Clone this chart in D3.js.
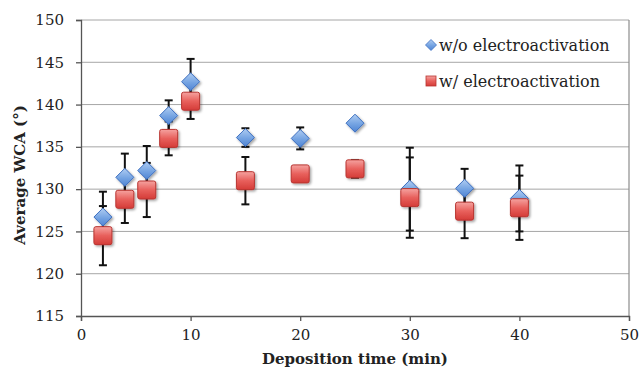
<!DOCTYPE html>
<html>
<head>
<meta charset="utf-8">
<script src="https://cdn.jsdelivr.net/npm/d3@7"></script>
<style>
  body { margin: 0; background: #fff; }
  text { font-family: "DejaVu Serif", serif; fill: #222; }
</style>
</head>
<body>
<div id="chart"></div>
<script>
// deposition time (min)
const times = [2, 4, 6, 8, 10, 15, 20, 25, 30, 35, 40];
// w/o electroactivation
const woMean = [126.7, 131.4, 132.2, 138.7, 142.7, 136.1, 136.0, 137.8, 130.0, 130.1, 128.9];
const woErr  = [3.0, 2.8, 2.9, 1.8, 2.7, 1.1, 1.3, 0.3, 4.9, 2.3, 3.9];
// w/ electroactivation
const wMean = [124.5, 128.8, 129.9, 136.0, 140.4, 131.0, 131.8, 132.4, 129.0, 127.4, 127.8];
const wErr  = [3.5, 2.8, 3.2, 2.0, 2.1, 2.8, 0.4, 1.05, 4.75, 3.2, 3.8];

const xTicks = [0, 10, 20, 30, 40, 50];
const yTicks = [115, 120, 125, 130, 135, 140, 145, 150];
const seriesNames = ['w/o electroactivation', 'w/ electroactivation'];

const width = 639, height = 375;
const margin = {top: 20, right: 10, bottom: 59, left: 81};
const w = width - margin.left - margin.right;
const h = height - margin.top - margin.bottom;

const svg = d3.select('#chart').append('svg')
  .attr('width', width)
  .attr('height', height);

const defs = svg.append('defs');
const blueGrad = defs.append('linearGradient').attr('id', 'blueGrad')
  .attr('x1', 0).attr('y1', 0).attr('x2', 0).attr('y2', 1);
blueGrad.append('stop').attr('offset', '0%').attr('stop-color', '#b0cdf2');
blueGrad.append('stop').attr('offset', '55%').attr('stop-color', '#74a3e2');
blueGrad.append('stop').attr('offset', '100%').attr('stop-color', '#4f84d3');
const redGrad = defs.append('linearGradient').attr('id', 'redGrad')
  .attr('x1', 0).attr('y1', 0).attr('x2', 0).attr('y2', 1);
redGrad.append('stop').attr('offset', '0%').attr('stop-color', '#f5a3a0');
redGrad.append('stop').attr('offset', '50%').attr('stop-color', '#e8605c');
redGrad.append('stop').attr('offset', '100%').attr('stop-color', '#d43c38');
const shadow = defs.append('filter').attr('id', 'shadow')
  .attr('x', '-30%').attr('y', '-30%').attr('width', '170%').attr('height', '170%');
shadow.append('feDropShadow').attr('dx', 1.5).attr('dy', 1.5)
  .attr('stdDeviation', 1.2).attr('flood-color', '#000').attr('flood-opacity', 0.35);

const g = svg.append('g')
  .attr('transform', `translate(${margin.left},${margin.top})`);

const x = d3.scaleLinear().domain([0, 50]).range([0, w]);
const y = d3.scaleLinear().domain([115, 150]).range([h, 0]);

// gridlines
g.append('g')
  .selectAll('line')
  .data(yTicks.filter(t => t > 115))
  .enter().append('line')
  .attr('x1', 0).attr('x2', w)
  .attr('y1', d => y(d)).attr('y2', d => y(d))
  .attr('stroke', '#a6a6a6').attr('stroke-width', 1);

// right border
g.append('line')
  .attr('x1', w).attr('x2', w).attr('y1', 0).attr('y2', h)
  .attr('stroke', '#8c8c8c').attr('stroke-width', 1.2);

// axes
const yAxis = g.append('g')
  .call(d3.axisLeft(y).tickValues(yTicks).tickSize(5).tickPadding(12));
const xAxis = g.append('g')
  .attr('transform', `translate(0,${h})`)
  .call(d3.axisBottom(x).tickValues(xTicks).tickSize(5).tickPadding(8));
[xAxis, yAxis].forEach(a => {
  a.select('.domain').attr('stroke', '#555').attr('stroke-width', 1.3);
  a.selectAll('.tick line').attr('stroke', '#555').attr('stroke-width', 1.3);
  a.selectAll('text')
    .style('font-family', '"DejaVu Serif", serif')
    .style('font-size', '15px')
    .attr('fill', '#222');
});

// axis titles
svg.append('text')
  .attr('x', margin.left + x(25))
  .attr('y', 364)
  .attr('text-anchor', 'middle')
  .style('font-size', '15px')
  .style('font-weight', 'bold')
  .text('Deposition time (min)');
svg.append('text')
  .attr('transform', `translate(25,175) rotate(-90)`)
  .attr('text-anchor', 'middle')
  .style('font-size', '15px')
  .style('font-weight', 'bold')
  .text('Average WCA (°)');

// error bars
function errorBars(means, errs, cls) {
  const eg = g.append('g').attr('class', cls);
  const d = times.map((t, i) => ({t, m: means[i], e: errs[i]}));
  eg.selectAll('line.bar')
    .data(d).enter().append('line')
    .attr('x1', p => x(p.t)).attr('x2', p => x(p.t))
    .attr('y1', p => y(p.m - p.e)).attr('y2', p => y(p.m + p.e))
    .attr('stroke', '#111').attr('stroke-width', 2);
  ['lo', 'hi'].forEach(k => {
    eg.selectAll('line.cap-' + k)
      .data(d).enter().append('line')
      .attr('x1', p => x(p.t) - 4).attr('x2', p => x(p.t) + 4)
      .attr('y1', p => y(k === 'lo' ? p.m - p.e : p.m + p.e))
      .attr('y2', p => y(k === 'lo' ? p.m - p.e : p.m + p.e))
      .attr('stroke', '#111').attr('stroke-width', 2);
  });
}
errorBars(woMean, woErr, 'err-wo');
errorBars(wMean, wErr, 'err-w');

// markers
const diamond = s => `M0,${-s} L${s},0 L0,${s} L${-s},0 Z`;

g.append('g').selectAll('path')
  .data(times.map((t, i) => ({t, v: woMean[i]})))
  .enter().append('path')
  .attr('transform', d => `translate(${x(d.t)},${y(d.v)})`)
  .attr('d', diamond(9))
  .attr('fill', 'url(#blueGrad)')
  .attr('stroke', '#3d6fc0').attr('stroke-width', 1)
  .attr('filter', 'url(#shadow)');

g.append('g').selectAll('rect')
  .data(times.map((t, i) => ({t, v: wMean[i]})))
  .enter().append('rect')
  .attr('x', d => x(d.t) - 9).attr('y', d => y(d.v) - 9)
  .attr('width', 18).attr('height', 18)
  .attr('rx', 2)
  .attr('fill', 'url(#redGrad)')
  .attr('stroke', '#b83430').attr('stroke-width', 1)
  .attr('filter', 'url(#shadow)');

// legend
const legend = svg.append('g');
legend.append('path')
  .attr('transform', 'translate(431,45)')
  .attr('d', diamond(5.5))
  .attr('fill', 'url(#blueGrad)')
  .attr('stroke', '#3d6fc0').attr('stroke-width', 0.8);
legend.append('rect')
  .attr('x', 426).attr('y', 76).attr('width', 10).attr('height', 10)
  .attr('fill', 'url(#redGrad)')
  .attr('stroke', '#b83430').attr('stroke-width', 0.8);
legend.selectAll('text')
  .data(seriesNames)
  .enter().append('text')
  .attr('x', 439)
  .attr('y', (d, i) => i === 0 ? 51 : 87)
  .style('font-size', '16px')
  .text(d => d);
</script>
</body>
</html>
